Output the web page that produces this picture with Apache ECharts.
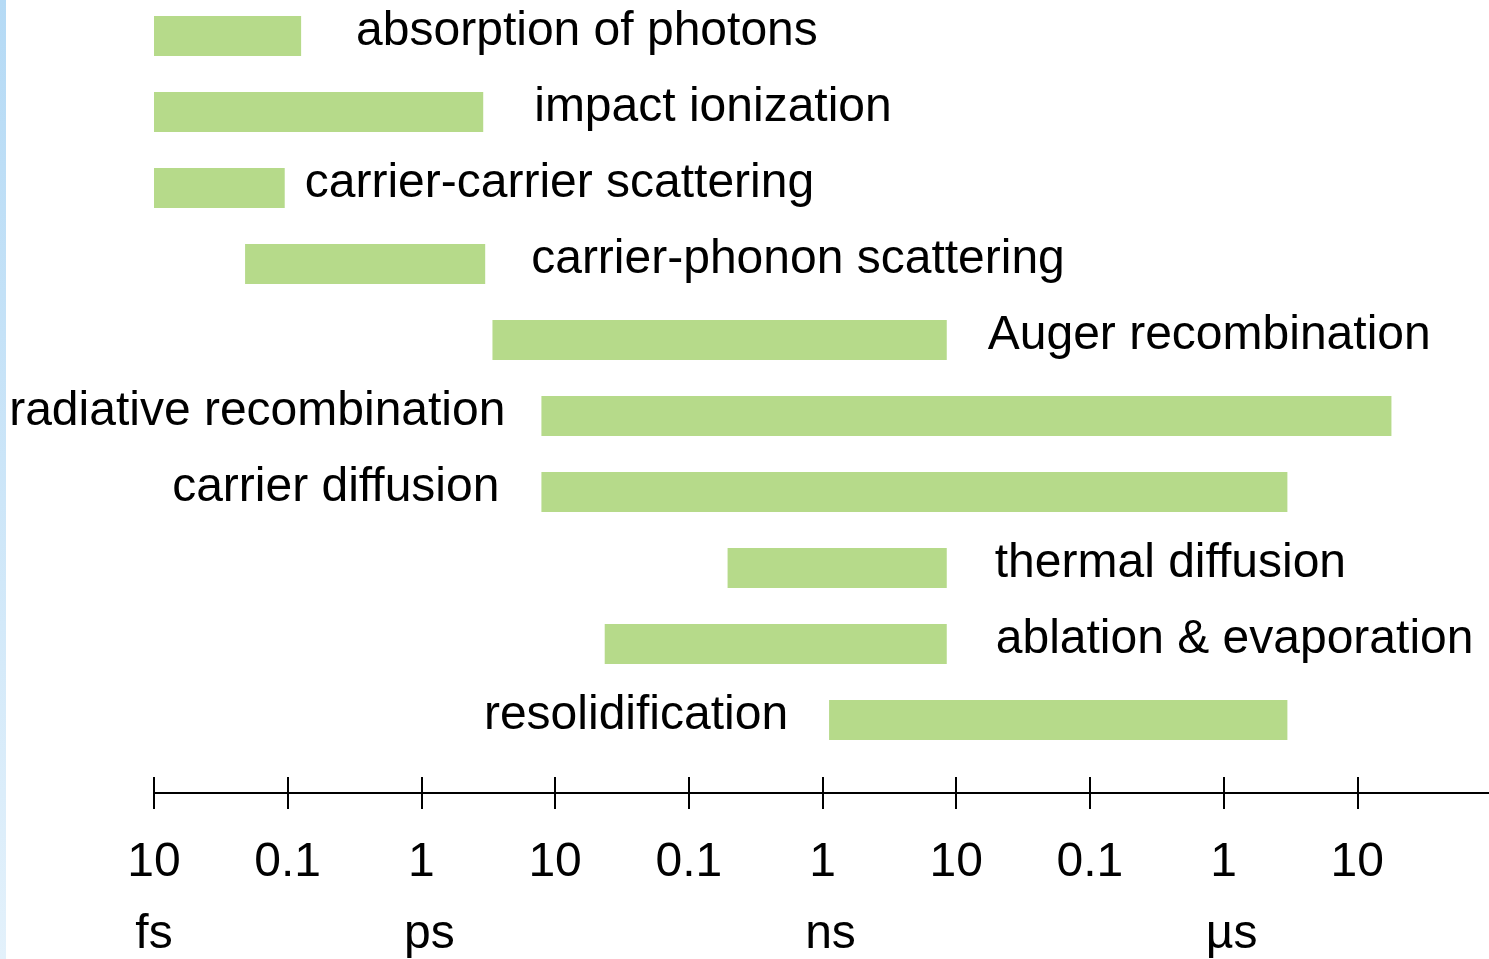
<!DOCTYPE html>
<html>
<head>
<meta charset="utf-8">
<script src="https://cdn.jsdelivr.net/npm/echarts@6/dist/echarts.min.js"></script>
<style>
  html, body { margin: 0; padding: 0; background: #fff; }
  #chart { width: 1489px; height: 959px; }
</style>
</head>
<body>
<div id="chart"></div>
<script>
// processes, top to bottom
const processes = [
  'absorption of photons',
  'impact ionization',
  'carrier-carrier scattering',
  'carrier-phonon scattering',
  'Auger recombination',
  'radiative recombination',
  'carrier diffusion',
  'thermal diffusion',
  'ablation & evaporation',
  'resolidification'
];
// time span of each process, seconds
const startTimes = [1e-14, 1e-14, 1e-14, 4.8e-14, 3.4e-12, 7.9e-12, 7.9e-12, 1.95e-10, 2.35e-11, 1.12e-9];
const endTimes = [1.26e-13, 2.9e-12, 9.5e-14, 3.0e-12, 8.5e-9, 1.8e-5, 3.0e-6, 8.5e-9, 8.5e-9, 3.0e-6];
// tick labels, one per decade
const tickNumbers = ['10', '0.1', '1', '10', '0.1', '1', '10', '0.1', '1', '10'];
const tickUnits = ['fs', '', 'ps', '', '', 'ns', '', '', 'µs', ''];

// label placement (layout only)
const labelSide = ['right', 'right', 'right', 'right', 'right', 'left', 'left', 'right', 'right', 'left'];
const labelGap = [55, 51, 20, 46, 41, 36, 42, 48, 49, 41];

const font = '"Liberation Sans", Arial, sans-serif';
const chart = echarts.init(document.getElementById('chart'));

const data = processes.map((p, i) => [startTimes[i], endTimes[i], i]);

const option = {
  animation: false,
  grid: {
    left: 154, right: -2, top: -2, bottom: 201,
    containLabel: false,
    outerBoundsMode: 'none'
  },
  graphic: [{
    type: 'rect',
    left: 0, top: 0,
    shape: { width: 6, height: 959 },
    style: {
      fill: new echarts.graphic.LinearGradient(0, 0, 0, 1, [
        { offset: 0, color: '#b5daf5' },
        { offset: 1, color: '#e3f1fb' }
      ])
    },
    silent: true
  }],
  xAxis: [
    {
      type: 'log',
      logBase: 10,
      min: 1e-14,
      max: 1e-4,
      interval: 1,
      position: 'bottom',
      offset: 35,
      axisLine: { show: true, lineStyle: { color: '#000', width: 2 } },
      axisTick: { show: true, length: 16, lineStyle: { color: '#000', width: 2 } },
      axisLabel: {
        margin: 34,
        color: '#000',
        fontSize: 48,
        fontFamily: font,
        lineHeight: 72,
        formatter: (v, i) => {
          if (i >= tickNumbers.length) return '';
          const u = tickUnits[i];
          const unitStyle = i === 0 ? 'u0' : 'u';
          return '{n|' + tickNumbers[i] + '}' + (u ? '\n{' + unitStyle + '|' + u + '}' : '\n{n| }');
        },
        rich: {
          n: { fontSize: 48, fontFamily: font, color: '#000', lineHeight: 72 },
          u0: { fontSize: 48, fontFamily: font, color: '#000', lineHeight: 72 },
          u: { fontSize: 48, fontFamily: font, color: '#000', lineHeight: 72, padding: [0, 0, 0, 16] }
        }
      },
      splitLine: { show: false },
      minorTick: { show: false }
    },
    {
      // upward half of the tick marks
      type: 'log',
      logBase: 10,
      min: 1e-14,
      max: 1e-4,
      interval: 1,
      position: 'bottom',
      offset: 35,
      axisLine: { show: false },
      axisTick: { show: true, inside: true, length: 16, lineStyle: { color: '#000', width: 2 } },
      axisLabel: { show: false },
      splitLine: { show: false }
    }
  ],
  yAxis: {
    type: 'category',
    data: processes,
    inverse: true,
    show: false
  },
  series: [{
    type: 'custom',
    xAxisIndex: 0,
    clip: false,
    encode: { x: [0, 1], y: 2 },
    data: data,
    renderItem(params, api) {
      const idx = params.dataIndex;
      const s = api.coord([api.value(0), api.value(2)]);
      const e = api.coord([api.value(1), api.value(2)]);
      const h = api.size([1, 1])[1] * 0.526;
      const right = labelSide[idx] === 'right';
      return {
        type: 'group',
        children: [
          {
            type: 'rect',
            shape: { x: s[0], y: s[1] - h / 2, width: e[0] - s[0], height: h },
            style: { fill: '#b6da8a' }
          },
          {
            type: 'text',
            x: right ? e[0] + labelGap[idx] : s[0] - labelGap[idx],
            y: s[1] - 4,
            style: {
              text: processes[idx],
              fill: '#000',
              fontSize: 48,
              fontFamily: font,
              align: right ? 'left' : 'right',
              verticalAlign: 'middle'
            }
          }
        ]
      };
    }
  }]
};

chart.setOption(option);
</script>
</body>
</html>
